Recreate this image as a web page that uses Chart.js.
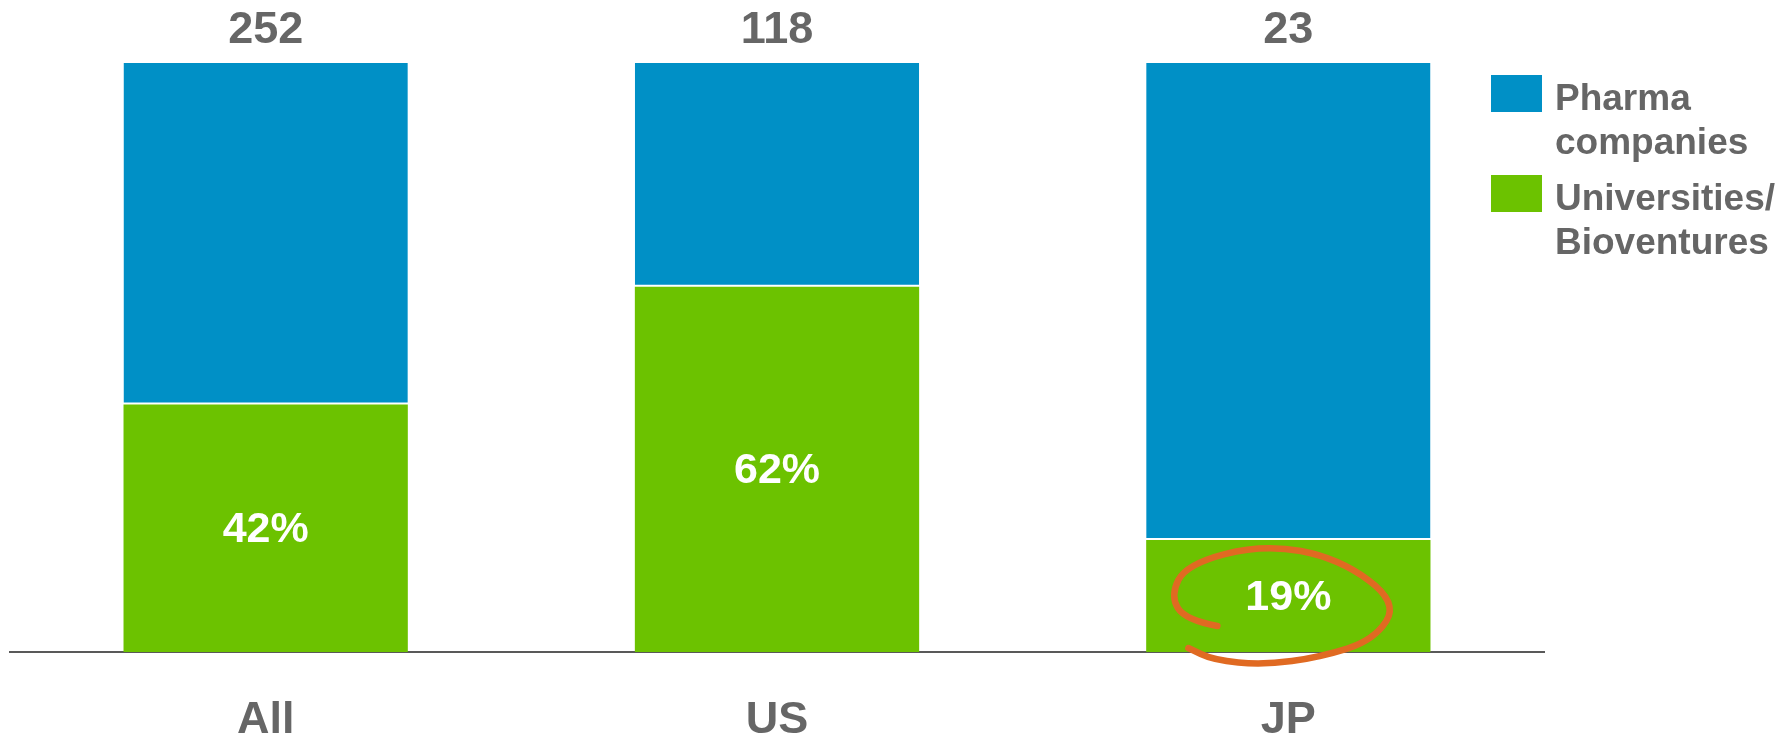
<!DOCTYPE html>
<html>
<head>
<meta charset="utf-8">
<script src="https://cdn.jsdelivr.net/npm/chart.js@4/dist/chart.umd.min.js"></script>
<style>
  html, body { margin: 0; padding: 0; background: #fff; }
  canvas { display: block; }
</style>
</head>
<body>
<canvas id="share" width="1782" height="735"></canvas>
<script>
const categories = ['All', 'US', 'JP'];
const totals = [252, 118, 23];
const uniShare = [42, 62, 19];
const pharmaShare = [58, 38, 81];
const seriesLabels = [['Pharma', 'companies'], ['Universities/', 'Bioventures']];

const BLUE = '#0090c6';
const GREEN = '#6cc200';
const GREY = '#666666';
const ORANGE = '#e06a22';
const FONT = '"Liberation Sans", Arial, sans-serif';

// totals above each bar, percentages inside the green part
const labelsPlugin = {
    id: 'labels',
    afterDatasetsDraw(chart) {
        const ctx = chart.ctx;
        const greenBars = chart.getDatasetMeta(0).data;
        const blueBars = chart.getDatasetMeta(1).data;
        ctx.save();
        ctx.textAlign = 'center';
        ctx.textBaseline = 'middle';
        ctx.font = 'bold 45px ' + FONT;
        ctx.fillStyle = GREY;
        blueBars.forEach((bar, i) => {
            ctx.fillText(String(totals[i]), bar.x, bar.y - 32);
        });
        ctx.font = 'bold 43px ' + FONT;
        ctx.fillStyle = '#ffffff';
        greenBars.forEach((bar, i) => {
            ctx.fillText(uniShare[i] + '%', bar.x, (bar.y + bar.base) / 2 + 2);
        });
        ctx.restore();
    }
};

// hand drawn ring around the JP share
const ringPlugin = {
    id: 'ring',
    afterDraw(chart) {
        const bar = chart.getDatasetMeta(0).data[2];
        const cx = bar.x;
        const cy = (bar.y + bar.base) / 2;
        const pts = [[-71, 30], [-103, 24], [-118, 0], [-102, -32], [-25, -52], [50, -38],
                     [110, 6], [86, 44], [32, 61], [-25, 69], [-75, 64], [-100, 52]];
        const ctx = chart.ctx;
        ctx.save();
        ctx.strokeStyle = ORANGE;
        ctx.lineWidth = 6.5;
        ctx.lineCap = 'round';
        ctx.beginPath();
        ctx.moveTo(cx + pts[0][0], cy + pts[0][1]);
        for (let i = 1; i < pts.length - 1; i++) {
            const mx = (pts[i][0] + pts[i + 1][0]) / 2;
            const my = (pts[i][1] + pts[i + 1][1]) / 2;
            ctx.quadraticCurveTo(cx + pts[i][0], cy + pts[i][1], cx + mx, cy + my);
        }
        const last = pts[pts.length - 1];
        ctx.lineTo(cx + last[0], cy + last[1]);
        ctx.stroke();
        ctx.restore();
    }
};

// legend on the right, two-line labels
const legendPlugin = {
    id: 'sideLegend',
    afterDraw(chart) {
        const ctx = chart.ctx;
        const x0 = chart.chartArea.right - 53;
        const colors = [BLUE, GREEN];
        const tops = [75, 175];
        ctx.save();
        ctx.font = 'bold 37px ' + FONT;
        ctx.textBaseline = 'alphabetic';
        ctx.textAlign = 'left';
        seriesLabels.forEach((lines, i) => {
            ctx.fillStyle = colors[i];
            ctx.fillRect(x0, tops[i], 51, 37);
            ctx.fillStyle = GREY;
            lines.forEach((line, j) => {
                ctx.fillText(line, x0 + 64, tops[i] + 35 + j * 44);
            });
        });
        ctx.restore();
    }
};

new Chart(document.getElementById('share'), {
    type: 'bar',
    data: {
        labels: categories,
        datasets: [
            {
                label: seriesLabels[1].join(' '),
                data: uniShare,
                backgroundColor: GREEN,
                borderWidth: 0
            },
            {
                label: seriesLabels[0].join(' '),
                data: pharmaShare,
                backgroundColor: BLUE,
                borderColor: '#ffffff',
                borderWidth: { bottom: 2, top: 0, left: 0, right: 0 },
                borderSkipped: false
            }
        ]
    },
    options: {
        responsive: false,
        animation: false,
        devicePixelRatio: 1,
        layout: { padding: { top: 63, left: 10, right: 238, bottom: 0 } },
        datasets: { bar: { categoryPercentage: 1, barPercentage: 0.556 } },
        plugins: { legend: { display: false }, tooltip: { enabled: false } },
        scales: {
            x: {
                stacked: true,
                grid: { display: false },
                border: { color: '#595959', width: 2 },
                ticks: { color: GREY, font: { family: FONT, size: 45, weight: 'bold' }, padding: 34 },
                afterFit(scale) { scale.height = 83; }
            },
            y: {
                stacked: true,
                display: false,
                min: 0,
                max: 100
            }
        }
    },
    plugins: [labelsPlugin, ringPlugin, legendPlugin]
});
</script>
</body>
</html>
